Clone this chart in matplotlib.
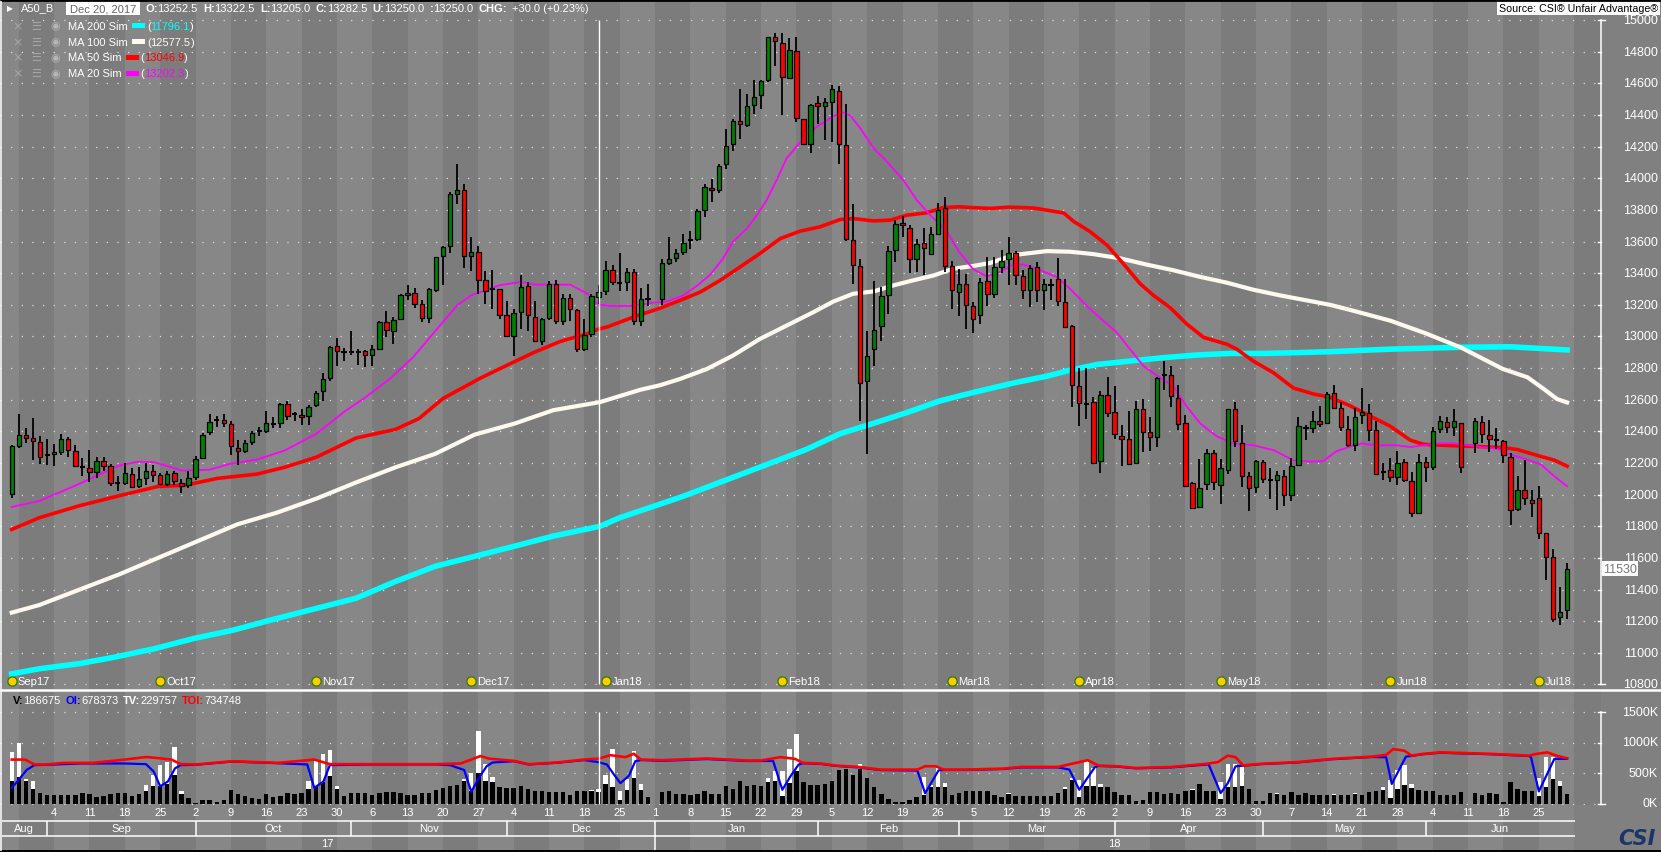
import numpy as np
import pandas as pd
import matplotlib
matplotlib.use("Agg")
import matplotlib.pyplot as plt
from matplotlib import font_manager
from matplotlib.patches import Rectangle
import matplotlib.transforms as mtrans

# ------------------------------------------------------------------ data
START, END = "2017-08-25", "2018-06-29"   # daily bars (weekday slots)

OPEN = [12005, 12310, 12380, 12357, 12333, 12250, 12257, 12270, 12354, 12278,
        12172, 12168, 12143, 12212, 12183, 12073, 12075, 12130, 12052, 12105,
        12147, 12126, 12069, 12140, 12073, 12062, 12111, 12232, 12397, 12469,
        12469, 12447, 12295, 12274, 12333, 12401, 12401, 12447, 12454, 12574,
        12507, 12505, 12496, 12570, 12655, 12735, 12938, 12902, 12900, 12900,
        12910, 12885, 12919, 13092, 13035, 13111, 13261, 13276, 13206, 13117,
        13292, 13510, 13573, 13901, 13926, 13510, 13535, 13360, 13299, 13303,
        13138, 13003, 13155, 13322, 13123, 12969, 13117, 13335, 13098, 13246,
        13168, 12923, 13018, 13252.5, 13286, 13423, 13341, 13345, 13409, 13098,
        13235, None, 13234, 13467, 13497, 13535, 13611, 13615, 13803, 13941,
        13928, 14089, 14216, 14364, 14339, 14461, 14525, 14620, 14893, 14853,
        14635, 14804, 14373, 14216, 14474, 14457, 14483, 14555, 14212, 13609,
        13446, 12716, 12921, 13065, 13264, 13549, 13719, 13687, 13492, 13592,
        13524, 13651, 13814, 13446, 13281, 13330, 13192, 13133, 13348, 13266,
        13440, 13489, 13530, 13383, 13291, 13438, 13291, 13325, 13362, 13217,
        13064, 12685, 12576, 12583, 12213, 12632, 12521, 12372, 12355, 12200,
        12540, 12393, 12366, 12757, 12755, 12610, 12451, 12072, 11919, 12066,
        12266, 12062, 12157, 12540, 12327, 12117, 12047, 12206, 12095, 12093,
        12119, 11998, 12189, 12430, 12419, 12468, 12451, 12640, 12545, 12418,
        12312, 12502, 12519, 12407, 12143, 12155, 12112, 12205, 12089, 11887,
        12205, 12174, 12413, 12462, 12428, 12452, None, 12324, 12462, 12377,
        12344, 12339, 12239, 11909, 12032, 11968, 11979, 11756, 11607, 11226, 11268]
HIGH = [12316, 12507, 12422, 12486, 12369, 12352, 12323, 12386, 12365, 12314,
        12232, 12284, 12238, 12238, 12196, 12115, 12200, 12168, 12172, 12200,
        12185, 12140, 12147, 12147, 12098, 12147, 12242, 12390, 12507, 12500,
        12511, 12464, 12348, 12348, 12405, 12428, 12528, 12492, 12581, 12591,
        12524, 12539, 12570, 12655, 12767, 12941, 12991, 12929, 13035, 12923,
        12917, 12944, 13096, 13162, 13123, 13267, 13328, 13307, 13229, 13307,
        13504, 13571, 13916, 14089, 13962, 13630, 13573, 13413, 13419, 13303,
        13225, 13176, 13392, 13345, 13225, 13117, 13352, 13356, 13267, 13267,
        13172, 13113, 13267, 13322.5, 13478, 13451, 13525, 13430, 13426, 13307,
        13335, None, 13488, 13630, 13556, 13651, 13668, 13806, 13966, 13996,
        14093, 14311, 14375, 14567, 14533, 14624, 14624, 14895, 14921, 14921,
        14889, 14893, 14377, 14470, 14519, 14508, 14593, 14586, 14470, 13835,
        13492, 13033, 13351, 13312, 13571, 13736, 13763, 13708, 13619, 13683,
        13693, 13841, 13880, 13478, 13425, 13397, 13217, 13370, 13503, 13504,
        13547, 13632, 13540, 13420, 13451, 13472, 13366, 13362, 13494, 13362,
        13072, 12800, 12800, 12615, 12653, 12742, 12685, 12440, 12530, 12594,
        12604, 12494, 12742, 12845, 12813, 12696, 12504, 12078, 12227, 12287,
        12281, 12227, 12540, 12583, 12440, 12142, 12217, 12217, 12170, 12147,
        12153, 12234, 12494, 12440, 12530, 12562, 12647, 12695, 12583, 12498,
        12545, 12674, 12572, 12466, 12201, 12233, 12275, 12227, 12142, 12254,
        12239, 12430, 12498, 12488, 12541, 12456, None, 12483, 12498, 12471,
        12424, 12343, 12261, 12121, 12216, 12032, 12057, 11756, 11656, 11416, 11569]
LOW = [11977, 12295, 12327, 12221, 12196, 12185, 12179, 12253, 12238, 12174,
       12115, 12083, 12105, 12147, 12052, 12020, 12062, 12041, 12041, 12062,
       12083, 12058, 12052, 12062, 12009, 12041, 12090, 12225, 12375, 12428,
       12428, 12248, 12185, 12263, 12316, 12369, 12390, 12422, 12422, 12475,
       12464, 12443, 12443, 12555, 12591, 12718, 12812, 12843, 12881, 12817,
       12807, 12813, 12914, 12997, 12950, 13102, 13229, 13183, 13092, 13088,
       13282, 13324, 13529, 13837, 13434, 13413, 13267, 13204, 13172, 13113,
       12997, 12876, 13045, 13033, 12965, 12944, 13102, 13077, 13073, 13098,
       12902, 12908, 12997, 13205, 13261, 13324, 13286, 13286, 13073, 13064,
       13191, None, 13200, 13450, 13471, 13513, 13552, 13602, 13757, 13852,
       13905, 14059, 14176, 14250, 14324, 14406, 14440, 14610, 14709, 14398,
       14631, 14356, 14212, 14163, 14343, 14243, 14233, 14091, 13602, 13329,
       12466, 12254, 12815, 12974, 13143, 13471, 13630, 13403, 13408, 13386,
       13513, 13640, 13408, 13175, 13128, 13048, 13023, 13080, 13196, 13242,
       13404, 13323, 13323, 13238, 13189, 13217, 13170, 13228, 13196, 13053,
       12553, 12436, 12476, 12191, 12136, 12493, 12351, 12179, 12185, 12196,
       12270, 12276, 12302, 12659, 12553, 12408, 12047, 11908, 11913, 12030,
       12030, 11943, 12132, 12302, 12047, 11898, 12008, 12072, 11972, 11902,
       11930, 11962, 12179, 12345, 12387, 12425, 12445, 12541, 12403, 12303,
       12276, 12445, 12339, 12127, 12095, 12078, 12063, 12078, 11858, 11883,
       12078, 12159, 12388, 12392, 12371, 12138, None, 12265, 12328, 12271,
       12286, 12201, 11809, 11894, 11936, 11858, 11720, 11463, 11194, 11173, 11215]
CLOSE = [12306, 12380, 12359, 12340, 12238, 12246, 12270, 12352, 12280, 12179,
         12172, 12143, 12212, 12183, 12073, 12073, 12136, 12047, 12098, 12147,
         12126, 12069, 12132, 12085, 12056, 12105, 12225, 12380, 12460, 12469,
         12454, 12306, 12278, 12327, 12390, 12401, 12450, 12447, 12574, 12496,
         12507, 12492, 12555, 12644, 12729, 12936, 12907, 12902, 12900, 12900,
         12885, 12921, 13092, 13039, 13104, 13265, 13278, 13206, 13117, 13301,
         13504, 13565, 13901, 13926, 13510, 13535, 13360, 13288, 13299, 13138,
         13003, 13151, 13316, 13138, 12969, 13113, 13335, 13098, 13246, 13176,
         12923, 13007, 13257, 13282.5, 13423, 13345, 13341, 13409, 13098, 13235,
         13235, None, 13465, 13492, 13530, 13592, 13611, 13795, 13947, 13928,
         14081, 14207, 14364, 14343, 14459, 14514, 14614, 14893, 14868, 14639,
         14811, 14381, 14216, 14466, 14457, 14481, 14565, 14216, 13615, 13454,
         12705, 12879, 13038, 13255, 13541, 13710, 13704, 13492, 13583, 13562,
         13647, 13799, 13446, 13291, 13330, 13200, 13111, 13344, 13270, 13440,
         13479, 13530, 13387, 13291, 13434, 13291, 13332, 13321, 13223, 13057,
         12691, 12579, 12572, 12200, 12632, 12519, 12381, 12355, 12196, 12540,
         12398, 12366, 12738, 12753, 12621, 12444, 12057, 11915, 12042, 12266,
         12079, 12170, 12540, 12338, 12117, 12042, 12210, 12100, 12091, 12125,
         11998, 12181, 12434, 12419, 12466, 12447, 12636, 12545, 12430, 12312,
         12488, 12524, 12407, 12133, 12141, 12112, 12201, 12095, 11887, 12208,
         12176, 12401, 12466, 12428, 12466, 12176, None, 12466, 12382, 12350,
         12342, 12248, 11900, 12027, 11979, 11947, 11756, 11603, 11215, 11258, 11530]

# moving averages (bar index, value)
MA200_K = [0, 3.9, 9.5, 14.6, 20.2, 25.7, 31.3, 37.5, 43.1, 48.7, 54.3, 59.9, 65.5, 71.1, 76.6,
           83.2, 86, 95, 105.6, 112.4, 117.2, 121.9, 126.6, 131.3, 136, 141.7, 146.4, 149.7,
           153.5, 158.2, 162.9, 167.6, 172.3, 177, 181.8, 186.5, 195, 205, 212, 220]
MA200_V = [10867, 10899, 10931, 10973, 11026, 11090, 11143, 11217, 11281, 11345, 11451, 11547,
           11610, 11674, 11738, 11800, 11854, 11990, 12170, 12286, 12386, 12451, 12519, 12593,
           12646, 12706, 12749, 12787, 12823, 12845, 12866, 12883, 12893, 12893, 12898, 12904,
           12920, 12932, 12935, 12915]
MA100_K = [0, 3.9, 9.5, 15.1, 20.7, 26.3, 31.9, 37.5, 43.1, 48.7, 54.3, 59.9, 65.5, 71.1, 76.6,
           83.2, 88.9, 91.7, 94.5, 98.3, 102, 105.8, 109.6, 113.4, 116.2, 119, 121.9, 124.7,
           127.5, 130.4, 133.2, 136, 138.4, 141.7, 146.4, 149.7, 153, 156.8, 160.5, 164.3,
           168.1, 171.9, 175.6, 179.4, 183.2, 186.5, 190, 195, 200, 205, 210.9, 214.4, 216.7,
           218.6, 220]
MA100_V = [11254, 11302, 11398, 11494, 11600, 11706, 11812, 11886, 11975, 12077, 12173, 12258,
           12380, 12449, 12534, 12585, 12663, 12692, 12731, 12794, 12879, 12984, 13069, 13154,
           13221, 13270, 13285, 13323, 13355, 13386, 13429, 13446, 13465, 13515, 13540, 13536,
           13521, 13494, 13455, 13419, 13377, 13340, 13296, 13260, 13228, 13200, 13160, 13100,
           13020, 12930, 12795, 12742, 12668, 12604, 12583]
MA50_K = [0, 3.9, 9.5, 15.1, 20.7, 24.6, 29.1, 34.7, 38.6, 43.1, 48.7, 54.3, 57.6, 61, 66.3, 70,
          73.8, 77.6, 81.4, 83, 84.2, 88, 91.7, 94.5, 97.4, 100.2, 103, 105.8, 108.7, 111.5,
          114.3, 117.2, 119, 121.9, 124.3, 126.6, 129.4, 131.8, 134.1, 136, 138.4, 141, 144.5,
          148.8, 150.2, 152.5, 154.9, 157.2, 159.6, 161.5, 163.8, 166.2, 168.6, 171.9, 173.3,
          175.6, 178.5, 181.3, 184.1, 186.5, 189.3, 192.1, 194.9, 197.8, 199.7, 202.5, 205.4,
          208.2, 211, 212.9, 215.8, 218.2, 220]
MA50_V = [11780, 11854, 11929, 11992, 12052, 12060, 12103, 12130, 12173, 12237, 12358, 12413,
          12481, 12608, 12737, 12817, 12898, 12969, 13018, 13047, 13060, 13124, 13179, 13228,
          13281, 13355, 13439, 13524, 13619, 13666, 13693, 13740, 13746, 13731, 13736, 13767,
          13782, 13816, 13820, 13815, 13810, 13818, 13813, 13781, 13728, 13664, 13579, 13462,
          13334, 13260, 13185, 13079, 12994, 12951, 12919, 12845, 12770, 12674, 12637, 12615,
          12562, 12498, 12435, 12345, 12318, 12312, 12307, 12303, 12297, 12286, 12248, 12218,
          12180]
MA20_K = [0, 3.9, 9.5, 15.1, 17.9, 20.2, 24.1, 28, 30.8, 34.7, 38.6, 43.1, 47, 49.8, 53.5, 56.8,
          60, 63, 65, 67, 69, 72, 74, 79, 81.4, 83, 84.6, 87.5, 90.8, 92.6, 95, 97, 98.8, 100.6,
          102, 104, 105.4, 106.8, 108.2, 109.6, 111, 112.4, 114.3, 116.2, 117.4, 118.6, 120,
          121.9, 123.8, 126.1, 128, 129.9, 132.3, 134, 136, 137.9, 139.3, 141.7, 143.1, 145.5,
          147.8, 149.7, 152, 154.4, 156.3, 158.2, 160.1, 162, 164.3, 166.2, 168.1, 170.4, 172.8,
          175.6, 178.5, 181.3, 183.6, 185.5, 187.4, 189.3, 191, 192.7, 195.9, 197.8, 201.6, 204,
          207.3, 210.1, 212, 214, 216.3, 218.2, 220]
MA20_V = [11922, 11960, 12067, 12183, 12209, 12205, 12152, 12158, 12194, 12222, 12279, 12385,
          12523, 12608, 12733, 12870, 13039, 13197, 13261, 13292, 13324, 13345, 13328, 13328,
          13271, 13202, 13193, 13193, 13214, 13221, 13260, 13323, 13391, 13492, 13598, 13683,
          13768, 13863, 13990, 14127, 14201, 14275, 14339, 14392, 14419, 14398, 14318, 14191,
          14106, 13990, 13863, 13768, 13662, 13535, 13425, 13380, 13398, 13455, 13455, 13419,
          13377, 13302, 13196, 13100, 13026, 12919, 12813, 12753, 12685, 12557, 12451, 12370,
          12323, 12313, 12281, 12217, 12209, 12212, 12275, 12303, 12324, 12312, 12312, 12301,
          12324, 12324, 12303, 12290, 12254, 12227, 12191, 12116, 12053]

# volume (thousands): front contract V, total TV (where it differs), OI, TOI
VOL = [362, 442, 362, 245, 165, 133, 133, 144, 144, 144,
       165, 160, 112, 123, 149, 165, 165, 123, 149, 203,
       282, 282, 325, 469, 160, 96, 16, 53, 53, 27,
       53, 219, 149, 123, 96, 80, 149, 112, 123, 176,
       149, 165, 240, 282, 346, 453, 240, 123, 165, 165,
       165, 133, 165, 192, 187, 176, 144, 144, 176, 176,
       219, 256, 282, 309, 362, 203, 496, 362, 346, 272,
       256, 256, 293, 240, 203, 200, 188, 186, 186, 142,
       197, 208, 208, 187, 324, 268, 50, 224, 418, 224,
       104, None, 186, 208, 158, 158, 142, 153, 208, 158,
       158, 291, 236, 374, 280, 307, 280, 346, 363, 120,
       335, 528, 346, 307, 307, 324, 374, 555, 572, 472,
       572, 418, 269, 153, 76, 30, 20, 50, 104, 142,
       269, 269, 269, 142, 180, 197, 197, 208, 208, 142,
       104, 153, 120, 120, 120, 131, 131, 131, 164, 236,
       379, 104, 291, 291, 274, 278, 190, 144, 144, 48,
       64, 187, 187, 160, 171, 160, 208, 224, 320, 198,
       198, 75, 278, 278, 294, 235, 48, 48, 171, 160,
       144, 187, 144, 171, 144, 144, 144, 144, 144, 144,
       160, 144, 182, 198, 214, 91, 235, 304, 262, 214,
       198, 198, 144, 144, 144, 182, None, 171, 144, 171,
       160, 27, 358, 235, 208, 208, 117, 278, 395, 294, 160]
TV_K = [0, 1, 2, 3, 15, 16, 17, 18, 19, 20, 21, 22, 23, 24, 41, 42, 43, 44, 45, 46, 64, 65, 66,
        67, 68, 82, 83, 84, 85, 86, 87, 88, 89, 106, 107, 108, 109, 110, 111, 120, 128, 129,
        130, 131, 132, 137, 141, 149, 150, 151, 152, 153, 154, 164, 167, 171, 172, 173, 174,
        179, 187, 190, 193, 194, 195, 196, 197, 198, 216, 217, 218, 219]
TV_V = [842, 986, 400, 362, 170, 172, 130, 155, 298, 469, 629, 682, 922, 213, 170, 362, 698, 805,
        879, 293, 405, 496, 1189, 640, 432, 215, 230, 472, 886, 197, 400, 853, 324, 291, 418,
        528, 530, 886, 1134, 654, 110, 434, 300, 583, 335, 213, 170, 268, 418, 390, 709, 583,
        324, 180, 235, 358, 641, 641, 625, 170, 160, 170, 208, 278, 384, 555, 625, 320, 411,
        758, 758, 368]
TOI_K = [0, 1.9, 3.2, 4.9, 7.4, 11.5, 16, 19, 20.6, 22.6, 23.9, 26.1, 31.2, 37.7, 41.8, 42.8, 45,
         51.4, 60, 63.5, 65, 66.3, 67.5, 71.1, 73.1, 77.1, 81, 83, 84.7, 86.8, 88, 89, 92, 98.3,
         101.4, 104, 106, 108.7, 110.8, 111.9, 114.5, 116.6, 119.7, 122.9, 128.1, 129.2, 130.7,
         131.8, 134.9, 140.2, 142.8, 148, 150.1, 152.2, 153.7, 156.4, 159, 164, 169, 170.6, 172,
         173.1, 174.2, 176.7, 181.8, 186.8, 192.4, 194.4, 195.4, 197, 198, 199.5, 202, 207,
         209.6, 214.6, 215.6, 217.2, 218.5, 219.7, 220]
TOI_V = [720, 720, 640, 640, 666, 666, 720, 762, 746, 720, 645, 640, 693, 666, 709, 720, 645,
         645, 645, 656, 720, 778, 736, 698, 645, 672, 721, 735, 792, 760, 815, 721, 710, 738,
         721, 705, 705, 760, 732, 666, 655, 622, 600, 556, 556, 611, 611, 556, 556, 572, 600,
         600, 655, 710, 622, 611, 582, 598, 651, 678, 785, 758, 625, 651, 678, 732, 769, 796,
         892, 865, 785, 812, 838, 822, 812, 785, 812, 838, 785, 748, 742]
OI_K = [0, 1, 2.1, 3.2, 5, 10, 16, 19, 20.1, 21, 22.1, 23.1, 23.9, 26.1, 31.2, 37.7, 41.8, 42.8,
        44.1, 45, 51.4, 60, 62, 64, 65, 66.2, 67.2, 68, 71.1, 73.1, 77.1, 81, 83, 84.2, 85.2,
        86.1, 87.3, 88.2, 89, 92, 98.3, 101.4, 104, 106, 107.7, 109, 110.2, 111.3, 111.9, 114.5,
        116.6, 119.7, 122.9, 128.1, 129.2, 131.1, 131.8, 134.9, 140.2, 142.8, 148, 149.6, 151,
        153.2, 153.7, 156.4, 159, 164, 169.3, 171, 172, 173.1, 174.2, 176.7, 181.8, 186.8,
        192.4, 194.4, 195.2, 197.2, 198, 199.5, 202, 207, 209.6, 214.6, 214.9, 216, 218.2, 220]
OI_V = [256, 389, 549, 629, 635, 656, 656, 645, 522, 282, 362, 576, 629, 635, 688, 660, 640, 256,
        362, 629, 640, 640, 629, 549, 192, 442, 613, 672, 693, 640, 667, 712, 678, 638, 472, 334,
        455, 693, 712, 700, 728, 712, 697, 697, 697, 225, 455, 638, 660, 648, 615, 592, 548, 540,
        168, 544, 550, 550, 565, 592, 592, 556, 225, 594, 615, 605, 576, 592, 641, 171, 331, 609,
        620, 645, 672, 726, 762, 758, 320, 769, 779, 806, 832, 815, 806, 779, 758, 198, 732, 732]

CONTRACT_K = [0, 21, 43, 65, 84, 109, 133, 151, 171, 195, 216]
CONTRACT_LBL = ["Sep17", "Oct17", "Nov17", "Dec17", "Jan18", "Feb18", "Mar18", "Apr18",
                "May18", "Jun18", "Jul18"]
CURSOR_K = 83
PRICE_TICKS = list(range(10800, 15001, 200))
VOL_TICKS = [0, 500, 1000, 1500]
MA_LEGEND = [("MA 200 Sim", "#00ffff", "11796.1"), ("MA 100 Sim", "#fff8ee", "12577.5"),
             ("MA 50 Sim", "#ff0000", "13046.9"), ("MA 20 Sim", "#ff00ff", "13202.3")]
HEADER = [("O:", "13252.5"), ("H:", "13322.5"), ("L:", "13205.0"), ("C:", "13282.5"),
          ("U:", "13250.0"), (":", "13250.0")]
VOL_HEADER = [("V:", "black", "186675"), ("OI:", "#0000ff", "678373"),
              ("TV:", "white", "229757"), ("TOI:", "#ff0000", "734748")]

# ------------------------------------------------------------------ setup
names = {f.name for f in font_manager.fontManager.ttflist}
UI = "Liberation Sans Narrow" if "Liberation Sans Narrow" in names else "Liberation Sans"
SZ = 9.6 if UI.endswith("Narrow") else 8.0
plt.rcParams["font.family"] = [UI, "DejaVu Sans"]

dates = pd.bdate_range(START, END)
N = len(dates)
kk = np.arange(N)
O = np.array(OPEN, float); Hh = np.array(HIGH, float)
L = np.array(LOW, float); C = np.array(CLOSE, float)
V = np.array(VOL, float)
TV = V.copy(); TV[TV_K] = TV_V

W, H = 1661, 853
fig = plt.figure(figsize=(W / 100, H / 100), dpi=100)
fig.patch.set_facecolor("#808080")
PX_K, X0, AXR = 7.07, 11.7, 1601
XL = (-X0 / PX_K, (AXR - X0) / PX_K)
PPX = 200 / 31.63           # price per pixel
KPX = 500 / 30.5            # volume (K) per pixel


def add_ax(top, bottom):
    ax = fig.add_axes([0, 1 - bottom / H, AXR / W, (bottom - top) / H])
    ax.set_xlim(*XL)
    ax.axis("off")
    return ax


ax_main = add_ax(0, 690)
ax_main.set_ylim(15000 - (690 - 21.2) * PPX, 15000 + 21.2 * PPX)
ax_vol = add_ax(692, 806)
ax_vol.set_ylim(-(806 - 804.5) * KPX, (804.5 - 692) * KPX)
ax_date = add_ax(806, 853)
ax_date.set_ylim(853, 806)
ax_ov = fig.add_axes([0, 0, 1, 1])
ax_ov.set_xlim(0, W); ax_ov.set_ylim(H, 0); ax_ov.axis("off")

# week stripes
mondays = [i for i, d in enumerate(dates) if d.weekday() == 0]
starts = [XL[0]] + mondays + [N]
ends = starts[1:] + [XL[1]]
for i, (s, e) in enumerate(zip(starts, ends)):
    col = "#878787" if i % 2 == 0 else "#7c7c7c"
    ax_main.axvspan(s, e, color=col, lw=0, zorder=0)
    ax_vol.axvspan(s, e, color=col, lw=0, zorder=0)
    if s < N:
        ax_date.axvspan(s, min(e, N), color=col, lw=0, zorder=0)

# grid
ax_main.hlines(PRICE_TICKS, XL[0], XL[1], colors="#dedede", linestyles=(0, (1, 7.5)),
               lw=0.9, zorder=1)
ax_vol.hlines(VOL_TICKS, XL[0], XL[1], colors="#dedede", linestyles=(0, (1, 7.5)),
              lw=0.9, zorder=1)

# moving averages
ax_main.plot(MA200_K, MA200_V, color="#00ffff", lw=4.0, zorder=2)
ax_main.plot(MA100_K, MA100_V, color="#fff8ee", lw=3.0, zorder=2)
ax_main.plot(MA50_K, MA50_V, color="#ff0000", lw=2.6, zorder=2)
ax_main.plot(MA20_K, MA20_V, color="#ff00ff", lw=1.3, zorder=2)

# candles
valid = ~np.isnan(O)
ax_main.vlines(kk[valid], L[valid], Hh[valid], color="black", lw=1.3, zorder=5)
body = np.abs(C - O)
doji = valid & (body < 8)
bm = valid & ~doji
cols = np.where(C[bm] >= O[bm], "#008000", "#ff0000")
ax_main.bar(kk[bm], body[bm], bottom=np.minimum(O, C)[bm], width=0.62, color=cols,
            edgecolor="black", linewidth=0.9, zorder=6)
ax_main.hlines(O[doji], kk[doji] - 0.36, kk[doji] + 0.36, color="black", lw=1.5, zorder=6)

# cursor
ax_main.vlines(CURSOR_K, PRICE_TICKS[0], PRICE_TICKS[-1], color="white", lw=1.0, zorder=7)
ax_vol.vlines(CURSOR_K, 0, VOL_TICKS[-1], color="white", lw=1.0, zorder=7)

# contract markers
trm = mtrans.blended_transform_factory(ax_main.transData, ax_main.transAxes)
ym = 1 - 682 / 690
ax_main.scatter(CONTRACT_K, [ym] * len(CONTRACT_K), transform=trm, s=44, c="#ffcc00",
                edgecolors="#2f7d00", linewidths=0.9, zorder=8, clip_on=False)
off = mtrans.ScaledTranslation(6 / 100, 0, fig.dpi_scale_trans)
for kx, lb in zip(CONTRACT_K, CONTRACT_LBL):
    ax_main.text(kx, ym, lb, transform=trm + off, ha="left", va="center", color="white",
                 fontsize=SZ, zorder=8)

# volume panel
vv = ~np.isnan(V)
ax_vol.bar(kk[vv], TV[vv], width=0.62, color="white", lw=0, zorder=2)
ax_vol.bar(kk[vv], V[vv], width=0.62, color="black", lw=0, zorder=3)
ax_vol.plot(OI_K, OI_V, color="#0000ff", lw=1.6, zorder=4)
ax_vol.plot(TOI_K, TOI_V, color="#ff0000", lw=1.9, zorder=5)

# right axes
for ax, ticks, fmt in ((ax_main, PRICE_TICKS, "{}"), (ax_vol, VOL_TICKS, "{}K")):
    tr = mtrans.blended_transform_factory(ax.transAxes, ax.transData)
    ax.plot([1, 1], [ticks[0], ticks[-1]], transform=tr, color="white", lw=1.1, clip_on=False)
    for t in ticks:
        ax.plot([1 - 3 / AXR, 1], [t, t], transform=tr, color="white", lw=1.0, clip_on=False)
        ax.text(1658 / AXR, t, fmt.format(t), transform=tr, ha="right", va="center",
                color="white", fontsize=SZ + 1)
    for t in (ticks[0], ticks[-1]):
        ax.plot([1, 1 + 4 / AXR], [t, t], transform=tr, color="white", lw=1.0, clip_on=False)

trp = mtrans.blended_transform_factory(ax_main.transAxes, ax_main.transData)
ax_main.text(1603 / AXR, C[-1], f"{C[-1]:.0f}", transform=trp, ha="left", va="center",
             color="#7a7a7a", fontsize=SZ + 1,
             bbox=dict(boxstyle="square,pad=0.12", fc="white", ec="none"))

# date axis
for m in mondays[1:]:
    ax_date.text(m, 813, str(dates[m].day), ha="center", va="center", color="white",
                 fontsize=SZ)
mstarts = [i for i in range(1, N) if dates[i].month != dates[i - 1].month]
bounds = [XL[0]] + mstarts + [N]
for a, b, i0 in zip(bounds[:-1], bounds[1:], [0] + mstarts):
    ax_date.text((a + b) / 2, 829.5, dates[i0].strftime("%b"), ha="center", va="center",
                 color="white", fontsize=SZ)
ax_date.hlines([821.7, 837.3], XL[0] + 0.3, N + 0.1, color="white", lw=1.1)
ax_date.vlines(mstarts, 821.7, 837.3, color="white", lw=1.1)
ystarts = [i for i in range(1, N) if dates[i].year != dates[i - 1].year]
ybounds = [XL[0]] + ystarts + [N]
ax_date.vlines(ystarts, 837.3, 852, color="white", lw=1.1)
for a, b, i0 in zip(ybounds[:-1], ybounds[1:], [0] + ystarts):
    ax_date.text((a + b) / 2, 844.5, dates[i0].strftime("%y"), ha="center", va="center",
                 color="white", fontsize=SZ)

# ------------------------------------------------------------------ overlay texts
renderer = fig.canvas.get_renderer()


def pieces(x, y, items, size=SZ):
    for txt, col, wt, gap in items:
        t = ax_ov.text(x, y, txt, color=col, fontsize=size, fontweight=wt, ha="left",
                       va="center")
        x += t.get_window_extent(renderer=renderer).width + gap
    return x


ax_ov.hlines(0.8, 0, W, color="black", lw=2.0)
ax_ov.hlines(852.2, 0, W, color="black", lw=1.4)
ax_ov.vlines(0.6, 2, 852, color="white", lw=1.1)
ax_ov.hlines(690.8, 0, W, color="white", lw=1.8)

ax_ov.text(10, 8.6, "\u25B6", color="white", fontsize=5.5, ha="center", va="center",
           family="DejaVu Sans")
ax_ov.text(21, 8.6, "A50_B", color="white", fontsize=SZ, ha="left", va="center")
ax_ov.add_patch(Rectangle((66, 1.6), 74, 14.6, fc="white", ec="none"))
ax_ov.text(70, 9.0, dates[CURSOR_K].strftime("%b %d, %Y"), color="#666666", fontsize=SZ,
           ha="left", va="center")
items = []
for lab, val in HEADER:
    items += [(lab, "white", "bold", 0), (val, "white", "normal", 5)]
items += [("CHG:", "white", "bold", 5), ("+30.0 (+0.23%)", "white", "normal", 0)]
pieces(145, 8.6, items)

ax_ov.add_patch(Rectangle((1497, 1.6), 163, 14.4, fc="white", ec="none"))
src = ax_ov.text(1499, 9.0, "Source: CSI\u00AE Unfair Advantage\u00AE", color="black",
                 fontsize=SZ, ha="left", va="center")
wsrc = src.get_window_extent(renderer=renderer).width
if wsrc > 158:
    src.set_fontsize(SZ * 158 / wsrc)

for r, (name, col, val) in enumerate(MA_LEGEND):
    y = 26.7 + 15.8 * r
    ax_ov.text(18, y, "\u00D7", color="#a6a6a6", fontsize=9, ha="center", va="center",
               family="DejaVu Sans")
    ax_ov.text(36, y, "\u2630", color="#a6a6a6", fontsize=8, ha="center", va="center",
               family="DejaVu Sans")
    ax_ov.text(55, y, "\u25C9", color="#b4b4b4", fontsize=8, ha="center", va="center",
               family="DejaVu Sans")
    x = pieces(68, y, [(name, "white", "normal", 4)])
    ax_ov.add_patch(Rectangle((x, y - 2.6), 13, 5.2, fc=col, ec="none"))
    pieces(x + 15, y, [("(", "white", "normal", 0), (val, col, "normal", 0),
                       (")", "white", "normal", 0)])

vitems = []
for lab, col, val in VOL_HEADER:
    vitems += [(lab, col, "bold", 0), (val, "white", "normal", 5)]
pieces(12.5, 700.5, vitems)

ax_ov.text(1637, 839, "CSI", color="#1c3566", fontsize=15, fontweight="bold",
           style="italic", ha="center", va="center", family="DejaVu Sans")

fig.savefig("out.png", dpi=100, facecolor=fig.get_facecolor())
